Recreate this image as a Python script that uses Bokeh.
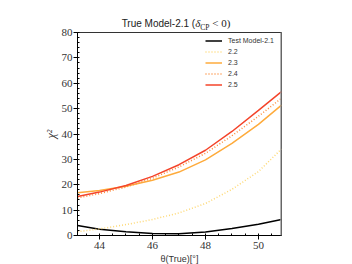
from bokeh.plotting import figure
from bokeh.layouts import column
from bokeh.models import Range1d, SingleIntervalTicker, Legend, LegendItem, Span, Div
from bokeh.embed import file_html
from bokeh.resources import INLINE

# data
theta = [43.17, 44, 45, 46, 47, 48, 49, 50, 50.87]
m21 = [3.9, 2.5, 1.5, 0.8, 0.7, 1.4, 2.8, 4.4, 6.3]
m22 = [1.5, 2.6, 4.3, 6.3, 8.9, 12.6, 18.2, 25.2, 34.1]
m23 = [16.8, 17.7, 19.4, 21.8, 25.0, 29.8, 36.3, 43.8, 51.4]
m24 = [14.8, 16.5, 19.1, 22.6, 27.0, 32.4, 39.3, 47.0, 54.1]
m25 = [15.4, 17.1, 19.7, 23.3, 27.9, 33.6, 41.0, 49.3, 56.7]
labels = ["Test Model-2.1", "2.2", "2.3", "2.4", "2.5"]
colors = ["#000000", "#fed976", "#feab3c", "#fd8d3c", "#f4442a"]
dashes = ["solid", "1 2", "solid", "1 2", "solid"]
xlim = (43.17, 50.87)
ylim = (0, 80)

title_html = ('<div style="width:344px;padding-left:8px;padding-top:17px;text-align:center;'
              'font-family:\'Liberation Sans\';font-size:10px;line-height:12px;color:#222;'
              'white-space:nowrap;">True Model-2.1 ('
              '<span style="font-family:\'Liberation Serif\';font-size:11px;">'
              '<i>δ</i><sub style="font-size:7.5px;line-height:0;">CP</sub> &lt; 0)</span></div>')
title = Div(text=title_html, width=352, height=26, margin=0,
            styles={"overflow": "visible"})

p = figure(frame_width=204, frame_height=203, output_backend="svg",
           toolbar_location=None, x_range=Range1d(*xlim), y_range=Range1d(*ylim),
           min_border_left=77, min_border_right=60, min_border_top=6,
           min_border_bottom=29, margin=0)
p.xgrid.visible = False
p.ygrid.visible = False
p.outline_line_color = "#333333"
p.outline_line_width = 1
p.background_fill_color = "white"
p.border_fill_color = None

renderers = []
for ys, c, d in zip([m21, m22, m23, m24, m25], colors, dashes):
    r = p.line(theta, ys, line_color=c, line_width=1.5, line_dash=d)
    renderers.append(r)

p.add_layout(Span(location=xlim[1], dimension="height", line_color="#9a9a9a", line_width=2.5))

legend = Legend(items=[LegendItem(label=l, renderers=[r]) for l, r in zip(labels, renderers)],
                location=(128, 146), padding=0, margin=0, spacing=2,
                glyph_width=17, glyph_height=9, label_height=9, label_standoff=6,
                label_text_font="Liberation Sans", label_text_font_size="7px",
                label_text_color="#333333", border_line_color=None,
                background_fill_alpha=0)
p.add_layout(legend)

p.xaxis.ticker = SingleIntervalTicker(interval=2, num_minor_ticks=4)
p.yaxis.ticker = SingleIntervalTicker(interval=10, num_minor_ticks=5)
for ax in (p.xaxis, p.yaxis):
    ax.major_label_text_font = "Liberation Serif"
    ax.major_label_text_font_size = "11px"
    ax.major_label_text_color = "#333333"
    ax.axis_line_color = "black"
    ax.major_tick_line_color = "black"
    ax.minor_tick_line_color = "black"
    ax.major_tick_out = 4
    ax.major_tick_in = 0
    ax.minor_tick_out = 0
    ax.minor_tick_in = 2
    ax.major_label_standoff = 2
    ax.axis_label_text_font_style = "normal"
    ax.axis_label_text_color = "#333333"

p.yaxis.major_label_standoff = 1
p.xaxis.axis_label = "θ(True)[°]"
p.xaxis.axis_label_text_font = "Liberation Sans"
p.xaxis.axis_label_text_font_size = "9px"
p.xaxis.axis_label_standoff = 2
p.yaxis.axis_label = "χ²"
p.yaxis.axis_label_text_font = "Liberation Serif"
p.yaxis.axis_label_text_font_style = "italic"
p.yaxis.axis_label_text_font_size = "12px"
p.yaxis.axis_label_standoff = 1

layout = column(title, p, spacing=0, margin=0)
open("out.html", "w").write(file_html(layout, INLINE))
